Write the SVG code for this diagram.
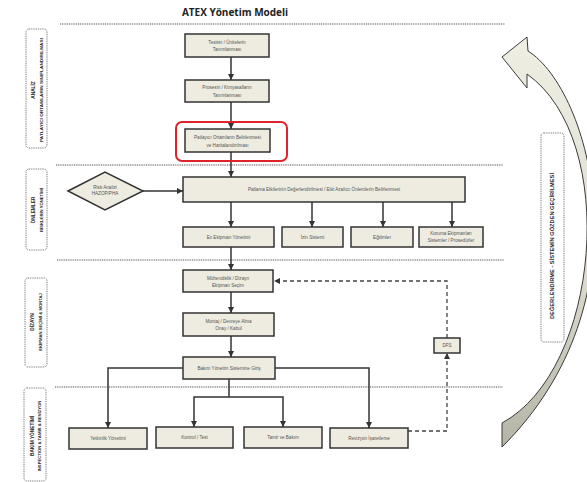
<svg xmlns="http://www.w3.org/2000/svg" width="587" height="482" viewBox="0 0 587 482">
  <defs>
    <marker id="arr" markerUnits="userSpaceOnUse" markerWidth="6" markerHeight="6" refX="6" refY="3" orient="auto">
      <path d="M0,0 L6,3 L0,6 z" fill="#333"/>
    </marker>
    <linearGradient id="cycleFill" gradientUnits="userSpaceOnUse" x1="0" y1="40" x2="0" y2="450">
      <stop offset="0" stop-color="#efeee3"/>
      <stop offset="0.55" stop-color="#deddd0"/>
      <stop offset="1" stop-color="#b4b4a6"/>
    </linearGradient>
    <style>
      .box { fill: #eeece1; stroke: #333; stroke-width: 1.5; }
      .lbl { font-family: "Liberation Sans", Arial, sans-serif; font-size: 4.6px; fill: #555; text-anchor: middle; }
      .sep { stroke: #888; stroke-width: 1.3; stroke-dasharray: 1 0.8; fill: none; }
      .phase { fill: #fff; stroke: #777; stroke-width: 1; stroke-dasharray: 1 0.8; }
      .ph1 { font-family: "Liberation Sans", Arial, sans-serif; font-size: 4.8px; font-weight: bold; fill: #2a2a2a; text-anchor: middle; }
      .ph2 { font-family: "Liberation Sans", Arial, sans-serif; font-size: 4.2px; font-weight: bold; fill: #2a2a2a; text-anchor: middle; }
      .con { stroke: #333; stroke-width: 1.5; fill: none; }
      .dash { stroke: #444; stroke-width: 1.3; fill: none; stroke-dasharray: 4 3; }
    </style>
  </defs>

  <rect width="587" height="482" fill="#fff"/>

  <!-- title -->
  <text x="235" y="16" font-family="'Open Sans', 'Liberation Sans', sans-serif" font-size="10" font-weight="bold" fill="#222" text-anchor="middle">ATEX Yönetim Modeli</text>

  <!-- section separators -->
  <g id="separators">
    <line class="sep" x1="60" y1="24" x2="505" y2="24"/>
    <line class="sep" x1="56" y1="165" x2="503" y2="165"/>
    <line class="sep" x1="57" y1="260" x2="504" y2="260"/>
    <line class="sep" x1="55" y1="387" x2="503" y2="387"/>
  </g>

  <!-- review cycle arrow -->
  <g id="cycle">
    <path d="M502,57 L527,37 L528,51 C590,90 650,300 502,447 L502,423 C600,370 620,140 527,74 L527,88 Z" fill="url(#cycleFill)" stroke="#3a3a3a" stroke-width="1"/>
  </g>

  <!-- phase labels -->
  <g id="phase-analiz">
    <rect class="phase" x="26" y="29" width="21" height="119" rx="3"/>
    <g transform="translate(36.5,90) rotate(-90)">
      <text class="ph1" x="0" y="-1.8">ANALİZ</text>
      <text class="ph2" x="0" y="6" textLength="104" lengthAdjust="spacingAndGlyphs">PATLAYICI ORTAMLARIN SINIFLANDIRILMASI</text>
    </g>
  </g>
  <g id="phase-onlemler">
    <rect class="phase" x="26" y="169" width="21" height="81" rx="3"/>
    <g transform="translate(36.5,210) rotate(-90)">
      <text class="ph1" x="0" y="-1.8">ÖNLEMLER</text>
      <text class="ph2" x="0" y="6">RİSKLERİN YÖNETİMİ</text>
    </g>
  </g>
  <g id="phase-dizayn">
    <rect class="phase" x="25" y="278" width="22" height="89" rx="3"/>
    <g transform="translate(36,322) rotate(-90)">
      <text class="ph1" x="0" y="-1.8">DİZAYN</text>
      <text class="ph2" x="0" y="5.5">EKİPMAN SEÇİMİ &amp; MONTAJ</text>
    </g>
  </g>
  <g id="phase-bakim">
    <rect class="phase" x="24" y="388" width="22" height="93" rx="3"/>
    <g transform="translate(35,436) rotate(-90)">
      <text class="ph1" x="0" y="-1.3">BAKIM YÖNETİMİ</text>
      <text class="ph2" x="0" y="5.5">INSPECTION &amp; TAMİR &amp; REVİZYON</text>
    </g>
  </g>
  <g id="phase-degerlendirme">
    <rect class="phase" x="541" y="133" width="23" height="209" rx="3"/>
    <text class="ph1" transform="translate(554,246) rotate(-90)" x="0" y="0" textLength="146" lengthAdjust="spacingAndGlyphs">DEĞERLENDİRME - SİSTEMİN GÖZDEN GEÇİRİLMESİ</text>
  </g>

  <!-- connectors -->
  <g id="connectors">
    <line class="con" x1="231" y1="57" x2="231" y2="80" marker-end="url(#arr)"/>
    <line class="con" x1="231" y1="102" x2="231" y2="129" marker-end="url(#arr)"/>
    <line class="con" x1="231" y1="152" x2="231" y2="177" marker-end="url(#arr)"/>
    <line class="con" x1="143" y1="191" x2="183" y2="191" marker-end="url(#arr)"/>
    <line class="con" x1="231" y1="202" x2="231" y2="227" marker-end="url(#arr)"/>
    <line class="con" x1="312" y1="202" x2="312" y2="227" marker-end="url(#arr)"/>
    <line class="con" x1="383" y1="202" x2="383" y2="227" marker-end="url(#arr)"/>
    <line class="con" x1="452" y1="202" x2="452" y2="227" marker-end="url(#arr)"/>
    <line class="con" x1="231" y1="247" x2="231" y2="270" marker-end="url(#arr)"/>
    <line class="con" x1="231" y1="292" x2="231" y2="313" marker-end="url(#arr)"/>
    <line class="con" x1="231" y1="336" x2="231" y2="357" marker-end="url(#arr)"/>
    <polyline class="con" points="183,368 108,368 108,428" marker-end="url(#arr)"/>
    <polyline class="con" points="275,368 369,368 369,428" marker-end="url(#arr)"/>
    <line class="con" x1="229" y1="379" x2="229" y2="397"/>
    <polyline class="con" points="229,397 194,397 194,427" marker-end="url(#arr)"/>
    <polyline class="con" points="229,397 283,397 283,427" marker-end="url(#arr)"/>
    <polyline class="dash" points="408,431 447,431 447,353" marker-end="url(#arr)"/>
    <polyline class="dash" points="447,338 447,281 274,281" marker-end="url(#arr)"/>
  </g>

  <!-- analysis -->
  <g id="n-tesis">
    <rect class="box" x="185" y="34" width="84" height="23"/>
    <text class="lbl" x="227" y="43.5">Tesisin / Ünitelerin</text>
    <text class="lbl" x="227" y="51">Tanımlanması</text>
  </g>
  <g id="n-proses">
    <rect class="box" x="185" y="80" width="84" height="22"/>
    <text class="lbl" x="227" y="88.5">Prosesin / Kimyasalların</text>
    <text class="lbl" x="227" y="96.5">Tanımlanması</text>
  </g>
  <g id="n-patlayici">
    <rect x="176" y="122" width="111" height="39" rx="6" fill="none" stroke="#e0232b" stroke-width="2"/>
    <rect class="box" x="185" y="129" width="85" height="23"/>
    <text class="lbl" x="227.5" y="138.5">Patlayıcı Ortamların Belirlenmesi</text>
    <text class="lbl" x="227.5" y="146.5">ve Haritalandırılması</text>
  </g>

  <!-- measures -->
  <g id="n-risk">
    <polygon class="box" points="68,191 105,172 143,191 105,210"/>
    <text class="lbl" x="105" y="188.5">Risk Analizi</text>
    <text class="lbl" x="105" y="195">HAZOP/PHA</text>
  </g>
  <g id="n-etki">
    <rect class="box" x="183" y="177" width="282" height="25"/>
    <text class="lbl" x="324" y="191">Patlama Etkilerinin Değerlendirilmesi / Etki Azaltıcı Önlemlerin Belirlenmesi</text>
  </g>
  <g id="n-ex">
    <rect class="box" x="183" y="227" width="91" height="20"/>
    <text class="lbl" x="228.5" y="238.5">Ex Ekipman Yönetimi</text>
  </g>
  <g id="n-izin">
    <rect class="box" x="282" y="227" width="61" height="20"/>
    <text class="lbl" x="312.5" y="238.5">İzin Sistemi</text>
  </g>
  <g id="n-egitim">
    <rect class="box" x="351" y="227" width="62" height="20"/>
    <text class="lbl" x="382" y="238.5">Eğitimler</text>
  </g>
  <g id="n-koruma">
    <rect class="box" x="419" y="227" width="64" height="20"/>
    <text class="lbl" x="451" y="235">Koruma Ekipmanları</text>
    <text class="lbl" x="451" y="242">Sistemler / Prosedürler</text>
  </g>

  <!-- design -->
  <g id="n-muhendislik">
    <rect class="box" x="183" y="270" width="90" height="22"/>
    <text class="lbl" x="228" y="279.5">Mühendislik / Dizayn</text>
    <text class="lbl" x="228" y="287">Ekipman Seçim</text>
  </g>
  <g id="n-montaj">
    <rect class="box" x="183" y="313" width="91" height="23"/>
    <text class="lbl" x="228.5" y="322.5">Montaj / Devreye Alma</text>
    <text class="lbl" x="228.5" y="330">Onay / Kabul</text>
  </g>
  <g id="n-bakim-giris">
    <rect class="box" x="183" y="357" width="92" height="22"/>
    <text class="lbl" x="229" y="369.5">Bakım Yönetim Sistemine Giriş</text>
  </g>
  <g id="n-dfs">
    <rect class="box" x="434" y="338" width="26" height="15"/>
    <text class="lbl" x="447" y="347.3" fill="#888">DFS</text>
  </g>

  <!-- maintenance -->
  <g id="n-yetkinlik">
    <rect class="box" x="69" y="428" width="78" height="21"/>
    <text class="lbl" x="108" y="440">Yetkinlik Yönetimi</text>
  </g>
  <g id="n-kontrol">
    <rect class="box" x="156" y="427" width="77" height="21"/>
    <text class="lbl" x="194.5" y="439">Kontrol  / Test</text>
  </g>
  <g id="n-tamir">
    <rect class="box" x="244" y="427" width="78" height="21"/>
    <text class="lbl" x="283" y="439">Tamir ve Bakım</text>
  </g>
  <g id="n-revizyon">
    <rect class="box" x="330" y="428" width="78" height="20"/>
    <text class="lbl" x="369" y="439.5">Revizyon İşaretleme</text>
  </g>
</svg>
